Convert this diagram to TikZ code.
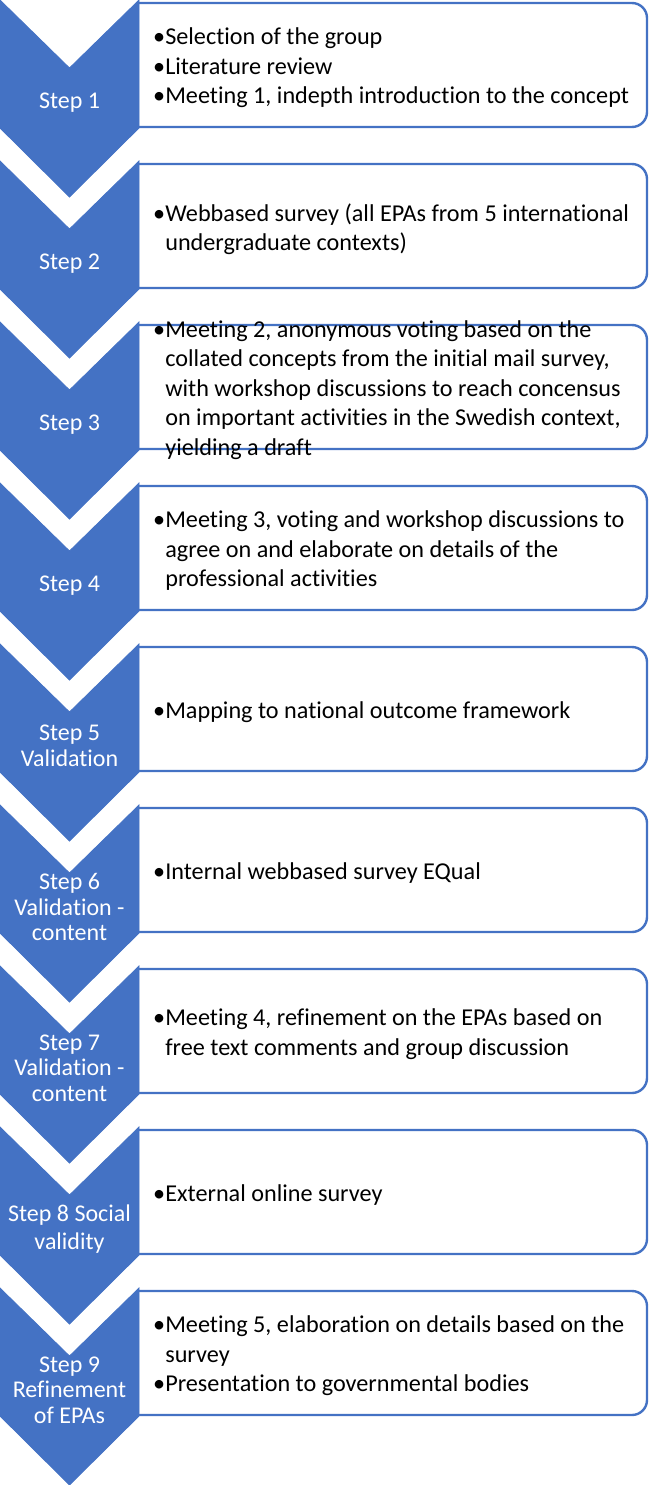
\documentclass[tikz,border=0pt]{standalone}
\usepackage{fontspec}
\setmainfont{Carlito}[Ligatures=NoCommon]
\definecolor{accent}{RGB}{68,114,196}
\newcommand{\bul}{\makebox[0.5em][l]{•}}
\newcommand{\ind}{\hspace*{0.5em}}
\tikzset{
  chev/.style={fill=accent, draw=accent, line width=0.8pt},
  descbox/.style={draw=accent, line width=2.4pt, rounded corners=15pt, fill=white},
  chevlabel/.style={text=white, align=center, inner sep=0pt, font=\fontsize{24}{25.5}\selectfont},
  desclabel/.style={anchor=west, align=left, inner sep=0pt, font=\fontsize{24.2}{29.5}\selectfont}
}
\begin{document}
\begin{tikzpicture}[x=1pt,y=-1pt]
\useasboundingbox (0,0) rectangle (650,1485);
\foreach \k in {0,...,8}{
  \pgfmathsetmacro{\T}{161*\k}
  \draw[descbox] (139,\T+3) -- (647,\T+3) -- (647,\T+127) -- (139,\T+127);
  \fill[chev] (0,\T) -- (69.5,\T+68) -- (139,\T) -- (139,\T+128) -- (69.5,\T+197) -- (0,\T+128) -- cycle;
}
% chevron labels
\node[chevlabel] (s1) at (69.5, 0*161+103) {Step 1};
\node[chevlabel] (s2) at (69.5, 1*161+103) {Step 2};
\node[chevlabel] (s3) at (69.5, 2*161+103) {Step 3};
\node[chevlabel] (s4) at (69.5, 3*161+103) {Step 4};
\node[chevlabel] (s5) at (69.5, 4*161+102) {Step 5\\Validation};
\node[chevlabel] (s6) at (69.5, 5*161+102) {Step 6\\Validation -\\content};
\node[chevlabel] (s7) at (69.5, 6*161+102) {Step 7\\Validation -\\content};
\node[chevlabel, font=\fontsize{24}{28}\selectfont] (s8) at (69.5, 7*161+102) {Step 8 Social\\validity};
\node[chevlabel] (s9) at (69.5, 8*161+102) {Step 9\\Refinement\\of EPAs};
% descriptions
\node[desclabel] (d1) at (153, 0*161+68) {\bul Selection of the group\\\bul Literature review\\\bul Meeting 1, indepth introduction to the concept};
\node[desclabel] (d2) at (153, 1*161+68) {\bul Webbased survey (all EPAs from 5 international\\\ind undergraduate contexts)};
\node[desclabel] (d3) at (153, 2*161+68) {\bul Meeting 2, anonymous voting based on the\\\ind collated concepts from the initial mail survey,\\\ind with workshop discussions to reach concensus\\\ind on important activities in the Swedish context,\\\ind yielding a draft};
\node[desclabel] (d4) at (153, 3*161+68) {\bul Meeting 3, voting and workshop discussions to\\\ind agree on and elaborate on details of the\\\ind professional activities};
\node[desclabel] (d5) at (153, 4*161+68) {\bul Mapping to national outcome framework};
\node[desclabel] (d6) at (153, 5*161+68) {\bul Internal webbased survey EQual};
\node[desclabel] (d7) at (153, 6*161+68) {\bul Meeting 4, refinement on the EPAs based on\\\ind free text comments and group discussion};
\node[desclabel] (d8) at (153, 7*161+68) {\bul External online survey};
\node[desclabel] (d9) at (153, 8*161+68) {\bul Meeting 5, elaboration on details based on the\\\ind survey\\\bul Presentation to governmental bodies};
\end{tikzpicture}
\end{document}
